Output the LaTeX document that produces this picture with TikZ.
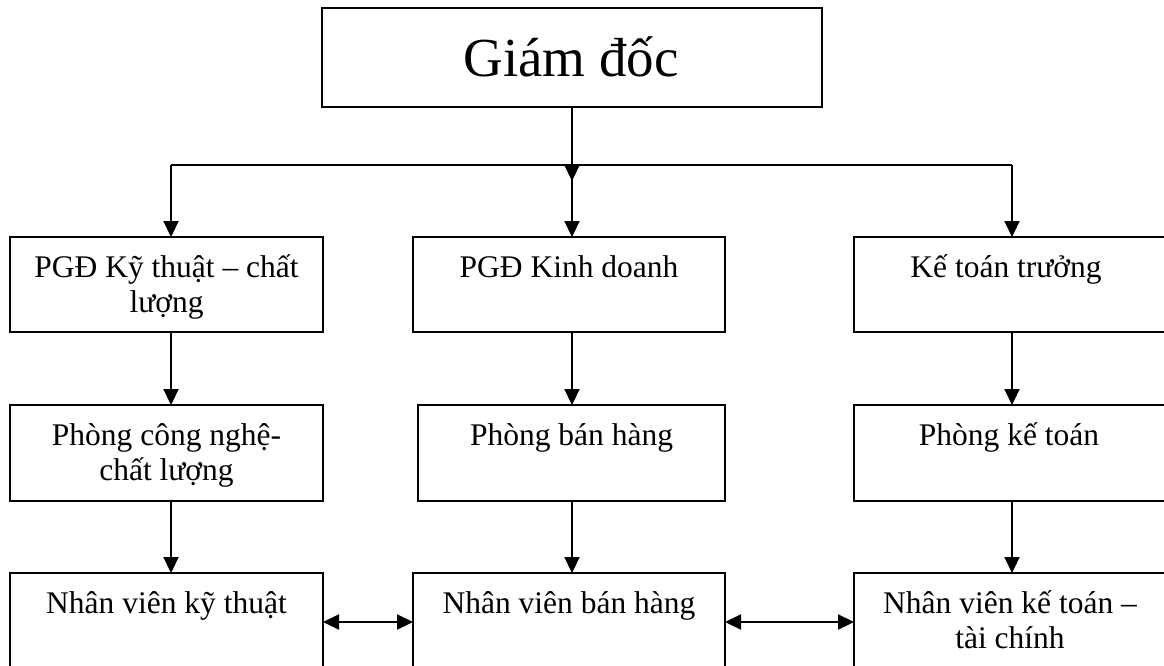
\documentclass[tikz,border=0pt]{standalone}
\usepackage{fontspec}
\setmainfont{Liberation Serif}
\usetikzlibrary{arrows.meta}
\begin{document}
\begin{tikzpicture}[x=1pt,y=-1pt,
  box/.style={draw, line width=1.9pt, inner sep=0pt, outer sep=0pt},
  lbl/.style={font=\fontsize{31.5}{35}\selectfont, align=center, anchor=base, inner sep=0pt},
  biglbl/.style={font=\fontsize{55}{60}\selectfont, anchor=base, inner sep=0pt},
  conn/.style={line width=2.2pt},
  arr/.style={line width=2.2pt, -{Triangle[length=16pt,width=15pt]}},
  darr/.style={line width=2.2pt, {Triangle[length=16pt,width=15pt]}-{Triangle[length=16pt,width=15pt]}}
]
\useasboundingbox (0,0) rectangle (1164,666);
\clip (0,0) rectangle (1164,666);
\fill[white] (0,0) rectangle (1164,666);

% boxes
\node[box, minimum width=500pt, minimum height=99pt] (gd) at (572,57.5) {};
\node[box, minimum width=313pt, minimum height=95pt] (pgd1) at (166.5,284.5) {};
\node[box, minimum width=312pt, minimum height=95pt] (pgd2) at (569,284.5) {};
\node[box, minimum width=311pt, minimum height=95pt] (ktt) at (1009.5,284.5) {};
\node[box, minimum width=313pt, minimum height=96pt] (p1) at (166.5,453) {};
\node[box, minimum width=307pt, minimum height=96pt] (p2) at (571.5,453) {};
\node[box, minimum width=311pt, minimum height=96pt] (p3) at (1009.5,453) {};
\node[box, minimum width=313pt, minimum height=127pt] (nv1) at (166.5,636.5) {};
\node[box, minimum width=312pt, minimum height=127pt] (nv2) at (569,636.5) {};
\node[box, minimum width=311pt, minimum height=127pt] (nv3) at (1009.5,636.5) {};

% labels (base anchor of a two-line label is its last line)
\node[biglbl] (tgd) at (571,77) {Giám đốc};
\node[lbl] (tpgd1) at (166.5,312) {PGĐ Kỹ thuật – chất\\lượng};
\node[lbl] (tpgd2) at (569,277) {PGĐ Kinh doanh};
\node[lbl] (tktt) at (1006,277) {Kế toán trưởng};
\node[lbl] (tp1) at (166.5,480) {Phòng công nghệ-\\chất lượng};
\node[lbl] (tp2) at (571.5,445) {Phòng bán hàng};
\node[lbl] (tp3) at (1009,445) {Phòng kế toán};
\node[lbl] (tnv1) at (166.5,613) {Nhân viên kỹ thuật};
\node[lbl] (tnv2) at (569,613) {Nhân viên bán hàng};
\node[lbl] (tnv3) at (1010,648) {Nhân viên kế toán –\\tài chính};

% connector coordinates
\coordinate (jl) at (171,165);
\coordinate (jm) at (572,165);
\coordinate (jr) at (1012,165);
\coordinate (jtip) at (572,181);
\coordinate (dy) at (0,622);

\draw[conn] (jl) -- (jr);
\draw[arr] (gd.south -| jm) -- (jtip);
\draw[arr] (jl) -- (jl |- pgd1.north);
\draw[arr] (jm) -- (jm |- pgd2.north);
\draw[arr] (jr) -- (jr |- ktt.north);

\draw[arr] (pgd1.south -| jl) -- (p1.north -| jl);
\draw[arr] (pgd2.south -| jm) -- (p2.north -| jm);
\draw[arr] (ktt.south -| jr) -- (p3.north -| jr);

\draw[arr] (p1.south -| jl) -- (nv1.north -| jl);
\draw[arr] (p2.south -| jm) -- (nv2.north -| jm);
\draw[arr] (p3.south -| jr) -- (nv3.north -| jr);

\draw[darr] (nv1.east |- dy) -- (nv2.west |- dy);
\draw[darr] (nv2.east |- dy) -- (nv3.west |- dy);
\end{tikzpicture}
\end{document}
